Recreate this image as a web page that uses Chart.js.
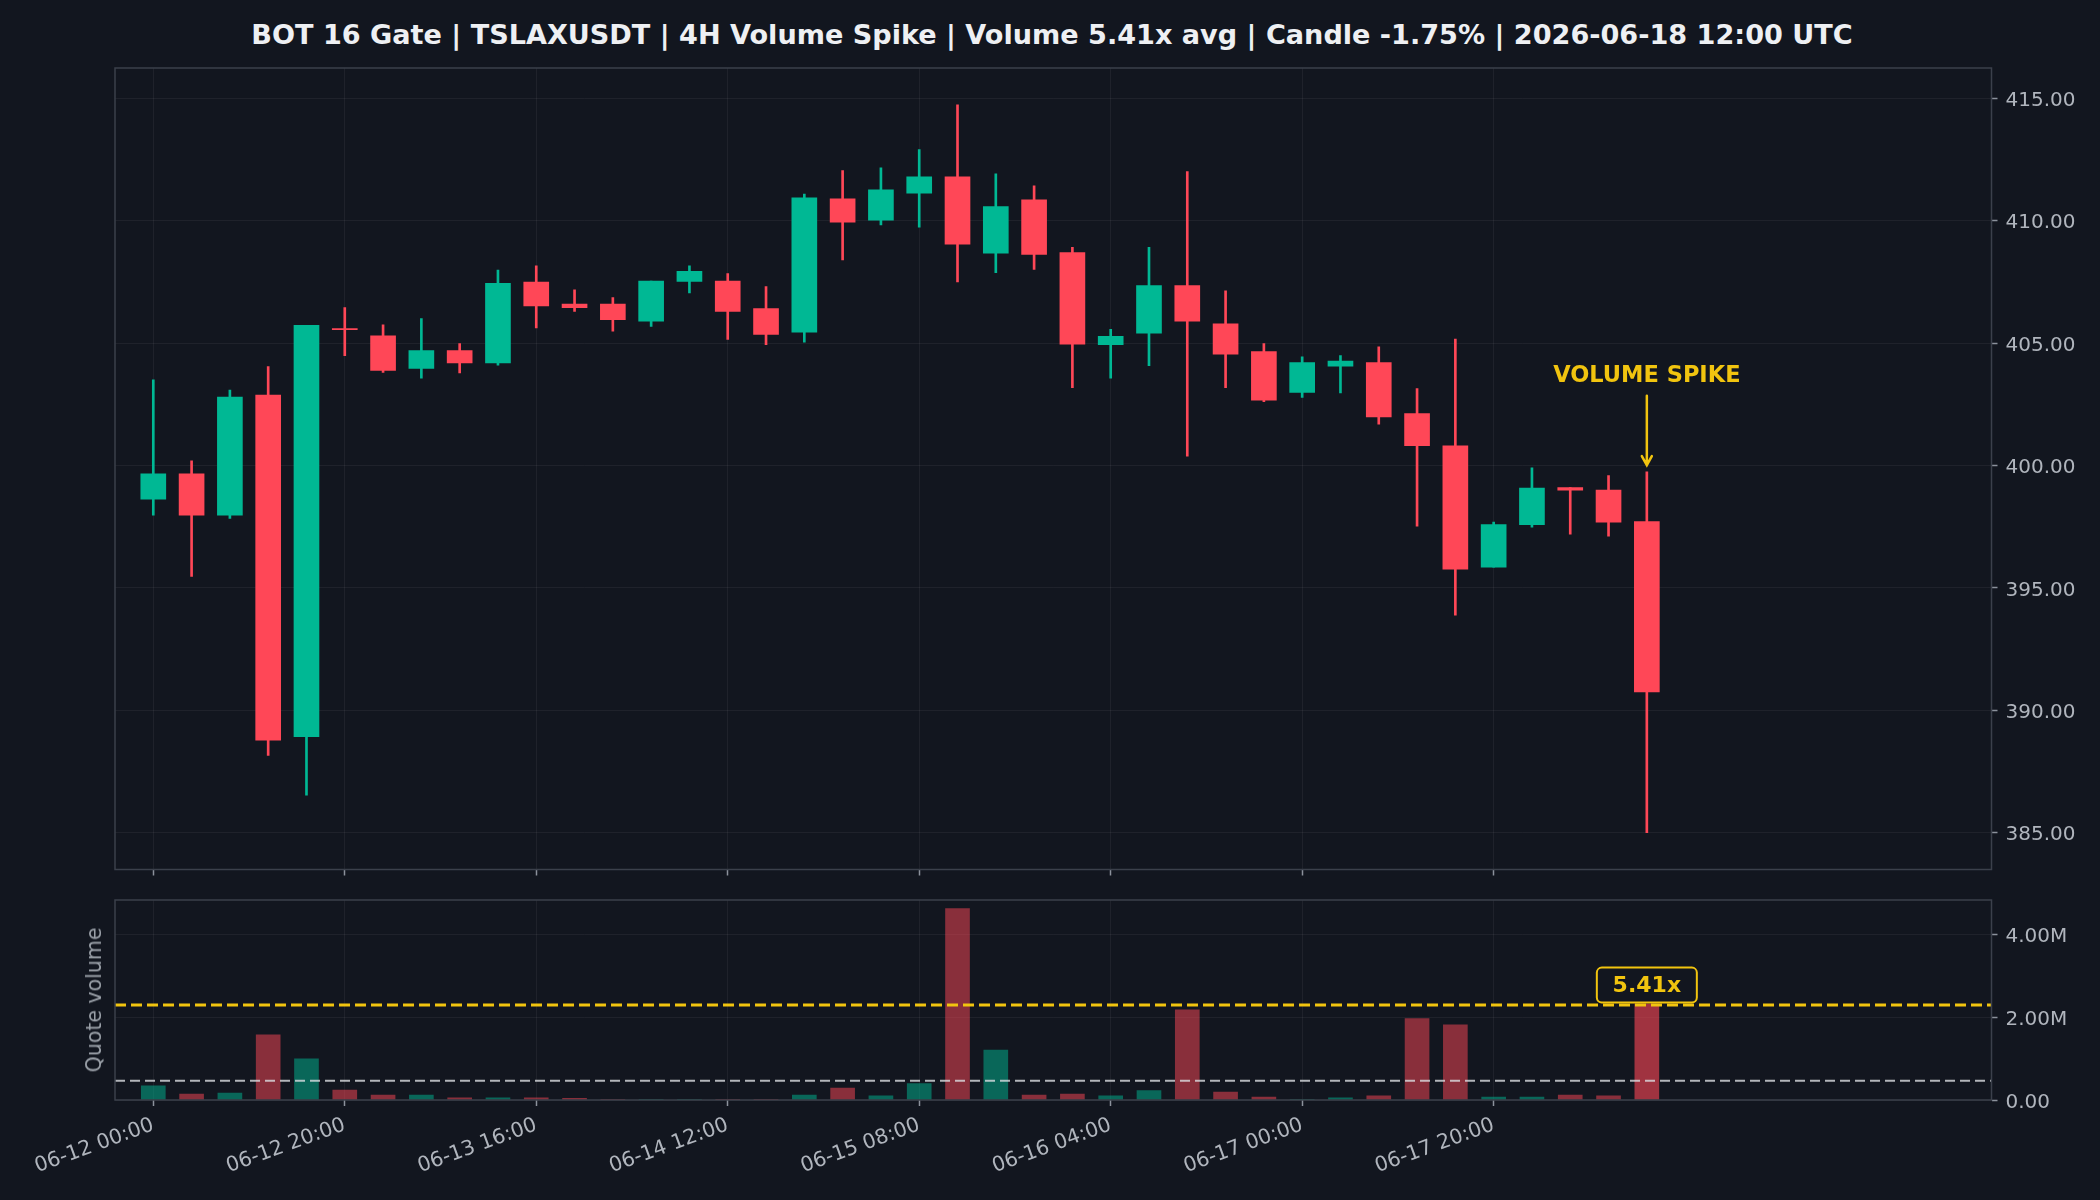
<!DOCTYPE html>
<html>
<head>
<meta charset="utf-8">
<script src="https://cdn.jsdelivr.net/npm/chart.js@4.4.1/dist/chart.umd.min.js"></script>
<style>
    html, body { margin: 0; padding: 0; background: #12161f; }
    #wrap { position: relative; width: 2100px; height: 1200px; background: #12161f; overflow: hidden; }
    canvas { position: absolute; left: 0; }
    #title { position: absolute; left: 1052px; top: 34px; transform: translate(-50%, -50%);
             font: bold 27.1px 'DejaVu Sans'; color: #eef0f3; white-space: nowrap; }
    #volLabel { position: absolute; left: 94px; top: 1000px; transform: translate(-50%, -50%) rotate(-90deg);
                font: 20.5px 'DejaVu Sans'; color: #9aa0a8; white-space: nowrap; }
</style>
</head>
<body>
<div id="wrap">
    <div id="title">BOT 16 Gate | TSLAXUSDT | 4H Volume Spike | Volume 5.41x avg | Candle -1.75% | 2026-06-18 12:00 UTC</div>
    <canvas id="price" width="2100" height="890" style="top:0"></canvas>
    <canvas id="volume" width="2100" height="320" style="top:880px"></canvas>
    <div id="volLabel">Quote volume</div>
</div>
<script>
// 4H candles, TSLAXUSDT
const times = [
    '06-12 00:00', '06-12 04:00', '06-12 08:00', '06-12 12:00', '06-12 16:00',
    '06-12 20:00', '06-13 00:00', '06-13 04:00', '06-13 08:00', '06-13 12:00',
    '06-13 16:00', '06-13 20:00', '06-14 00:00', '06-14 04:00', '06-14 08:00',
    '06-14 12:00', '06-14 16:00', '06-14 20:00', '06-15 00:00', '06-15 04:00',
    '06-15 08:00', '06-15 12:00', '06-15 16:00', '06-15 20:00', '06-16 00:00',
    '06-16 04:00', '06-16 08:00', '06-16 12:00', '06-16 16:00', '06-16 20:00',
    '06-17 00:00', '06-17 04:00', '06-17 08:00', '06-17 12:00', '06-17 16:00',
    '06-17 20:00', '06-18 00:00', '06-18 04:00', '06-18 08:00', '06-18 12:00'
];
const open = [398.63, 399.66, 397.97, 402.88, 388.93, 405.60, 405.30, 403.97, 404.70, 404.19,
              407.50, 406.60, 406.60, 405.90, 407.52, 407.54, 406.41, 405.45, 410.90, 410.02,
              411.13, 411.79, 408.68, 410.85, 408.70, 404.94, 405.41, 407.35, 405.79, 404.66,
              402.99, 404.06, 404.21, 402.12, 400.81, 395.85, 397.59, 399.10, 399.00, 397.71];
const high = [403.50, 400.19, 403.08, 404.04, 405.73, 406.45, 405.75, 406.00, 404.98, 407.99,
              408.16, 407.18, 406.86, 407.54, 408.16, 407.84, 407.31, 411.09, 412.05, 412.16,
              412.91, 414.74, 411.92, 411.43, 408.91, 405.56, 408.91, 412.01, 407.14, 404.98,
              404.44, 404.49, 404.85, 403.14, 405.17, 397.69, 399.91, 399.10, 399.59, 399.74];
const low = [397.97, 395.47, 397.84, 388.16, 386.54, 404.49, 403.80, 403.57, 403.78, 404.10,
             405.62, 406.30, 405.49, 405.68, 407.05, 405.15, 404.94, 405.04, 408.40, 409.83,
             409.74, 407.50, 407.88, 408.01, 403.18, 403.57, 404.08, 400.38, 403.18, 402.61,
             402.78, 402.97, 401.69, 397.52, 393.89, 395.85, 397.48, 397.20, 397.12, 385.00];
const close = [399.66, 397.97, 402.80, 388.78, 405.73, 405.55, 403.89, 404.70, 404.19, 407.44,
               406.52, 406.45, 405.96, 407.54, 407.93, 406.30, 405.36, 410.94, 409.94, 411.26,
               411.79, 409.04, 410.58, 408.63, 404.96, 405.28, 407.35, 405.90, 404.55, 402.67,
               404.21, 404.27, 401.99, 400.81, 395.77, 397.59, 399.08, 399.00, 397.69, 390.75];
const quoteVolume = [340000, 145000, 170000, 1576000, 994000, 240000, 120000, 120000, 50000, 50000,
                     50000, 40000, 5000, 5000, 5000, 5000, 5000, 120000, 290000, 100000,
                     400000, 4630000, 1210000, 120000, 145000, 100000, 230000, 2180000, 190000, 70000,
                     10000, 50000, 100000, 1970000, 1820000, 70000, 70000, 120000, 100000, 2320000];

const xTickIndex = [0, 5, 10, 15, 20, 25, 30, 35];
const priceTicks = [385, 390, 395, 400, 405, 410, 415];
const volumeTicks = [0, 2000000, 4000000];
const avgVolume = 465000;        // white dashed line
const spikeVolumeLine = 2300000; // yellow dashed line
const spikeIndex = 39;
const spikeRatioText = '5.41x';

const UP = '#00b894';
const DOWN = '#ff4757';
const YELLOW = '#f1c40f';
const TICK_TEXT = '#b0b5bd';

Chart.defaults.font.family = 'DejaVu Sans';
Chart.defaults.font.size = 20;
Chart.defaults.color = TICK_TEXT;

const isUp = open.map((o, i) => close[i] >= o);
const candleColors = isUp.map(u => u ? UP : DOWN);
const volumeColors = isUp.map((u, i) => {
    if (i === spikeIndex) return 'rgba(255,71,87,0.6)';
    return u ? 'rgba(0,184,148,0.5)' : 'rgba(255,71,87,0.5)';
});

const gridOpts = {
    color: 'rgba(255,255,255,0.055)',
    lineWidth: 1,
    tickColor: '#8c929c',
    tickLength: 6,
    tickWidth: 1.5,
    offset: false
};

// plot frame on all four sides
const frame = {
    id: 'frame',
    afterDraw(chart) {
        const {ctx, chartArea: a} = chart;
        ctx.save();
        ctx.strokeStyle = '#3b404b';
        ctx.lineWidth = 1.5;
        ctx.strokeRect(a.left, a.top, a.right - a.left, a.bottom - a.top);
        ctx.restore();
    }
};

// "VOLUME SPIKE" label with arrow over the last candle
const spikeNote = {
    id: 'spikeNote',
    afterDraw(chart) {
        const {ctx, scales: {x, y}} = chart;
        const px = x.getPixelForValue(spikeIndex);
        ctx.save();
        ctx.fillStyle = YELLOW;
        ctx.strokeStyle = YELLOW;
        ctx.font = 'bold 22.5px DejaVu Sans';
        ctx.textAlign = 'center';
        ctx.textBaseline = 'middle';
        ctx.fillText('VOLUME SPIKE', px, y.getPixelForValue(403.67));
        const y0 = y.getPixelForValue(402.85);
        const y1 = y.getPixelForValue(400.02);
        ctx.lineWidth = 2.5;
        ctx.lineCap = 'round';
        ctx.beginPath();
        ctx.moveTo(px, y0);
        ctx.lineTo(px, y1);
        ctx.moveTo(px - 5, y1 - 9);
        ctx.lineTo(px, y1);
        ctx.lineTo(px + 5, y1 - 9);
        ctx.stroke();
        ctx.restore();
    }
};

// ratio badge on the volume panel
const ratioBadge = {
    id: 'ratioBadge',
    afterDraw(chart) {
        const {ctx, scales: {x, y}} = chart;
        const px = x.getPixelForValue(spikeIndex);
        const py = y.getPixelForValue(2780000);
        const w = 100, h = 35;
        ctx.save();
        ctx.beginPath();
        ctx.roundRect(px - w / 2, py - h / 2, w, h, 5);
        ctx.fillStyle = '#12161f';
        ctx.fill();
        ctx.lineWidth = 2;
        ctx.strokeStyle = YELLOW;
        ctx.stroke();
        ctx.fillStyle = YELLOW;
        ctx.font = 'bold 22px DejaVu Sans';
        ctx.textAlign = 'center';
        ctx.textBaseline = 'middle';
        ctx.fillText(spikeRatioText, px, py + 1);
        ctx.restore();
    }
};

const setXTicks = scale => { scale.ticks = xTickIndex.map(v => ({value: v})); };

new Chart(document.getElementById('price'), {
    type: 'bar',
    data: {
        datasets: [
            {
                label: 'body',
                data: times.map((t, i) => ({x: i, y: [open[i], close[i]]})),
                backgroundColor: candleColors,
                barThickness: 25,
                grouped: false,
                order: 0
            },
            {
                label: 'wick',
                data: times.map((t, i) => ({x: i, y: [low[i], high[i]]})),
                backgroundColor: candleColors,
                barThickness: 2,
                grouped: false,
                order: 1
            }
        ]
    },
    options: {
        responsive: false,
        animation: false,
        devicePixelRatio: 1,
        layout: {padding: {left: 115, top: 68, right: 8.5, bottom: 8.5}},
        plugins: {legend: {display: false}, tooltip: {enabled: false}},
        scales: {
            x: {
                type: 'linear', min: -1, max: 48, offset: false, z: 1,
                grid: gridOpts, border: {display: false},
                ticks: {display: false},
                afterBuildTicks: setXTicks,
                afterFit: s => { s.height = 12; }
            },
            y: {
                position: 'right', min: 383.5, max: 416.24, z: 1,
                grid: gridOpts, border: {display: false},
                ticks: {padding: 8, labelOffset: 2.5, callback: v => v.toFixed(2)},
                afterBuildTicks: s => { s.ticks = priceTicks.map(v => ({value: v})); },
                afterFit: s => { s.width = 100; }
            }
        }
    },
    plugins: [frame, spikeNote]
});

new Chart(document.getElementById('volume'), {
    type: 'bar',
    data: {
        datasets: [
            {
                type: 'line',
                label: 'spike',
                data: [{x: -1, y: spikeVolumeLine}, {x: 48, y: spikeVolumeLine}],
                borderColor: YELLOW, borderWidth: 3, borderDash: [11, 5],
                pointRadius: 0, order: 0
            },
            {
                type: 'line',
                label: 'avg',
                data: [{x: -1, y: avgVolume}, {x: 48, y: avgVolume}],
                borderColor: 'rgba(220,222,226,0.8)', borderWidth: 2, borderDash: [10, 5],
                pointRadius: 0, order: 1
            },
            {
                label: 'volume',
                data: times.map((t, i) => ({x: i, y: quoteVolume[i]})),
                backgroundColor: volumeColors,
                barThickness: 24,
                grouped: false,
                order: 2
            }
        ]
    },
    options: {
        responsive: false,
        animation: false,
        devicePixelRatio: 1,
        layout: {padding: {left: 115, top: 20, right: 8.5, bottom: 0}},
        plugins: {legend: {display: false}, tooltip: {enabled: false}},
        scales: {
            x: {
                type: 'linear', min: -1, max: 48, offset: false,
                grid: gridOpts, border: {display: false},
                ticks: {
                    autoSkip: false, minRotation: 20, maxRotation: 20, padding: 7,
                    font: {size: 20.5},
                    callback: v => times[v]
                },
                afterBuildTicks: setXTicks,
                afterFit: s => { s.height = 100; }
            },
            y: {
                position: 'right', min: 0, max: 4840000,
                grid: gridOpts, border: {display: false},
                ticks: {padding: 8, labelOffset: 2.5,
                        callback: v => v === 0 ? '0.00' : (v / 1e6).toFixed(2) + 'M'},
                afterBuildTicks: s => { s.ticks = volumeTicks.map(v => ({value: v})); },
                afterFit: s => { s.width = 100; }
            }
        }
    },
    plugins: [frame, ratioBadge]
});
</script>
</body>
</html>
